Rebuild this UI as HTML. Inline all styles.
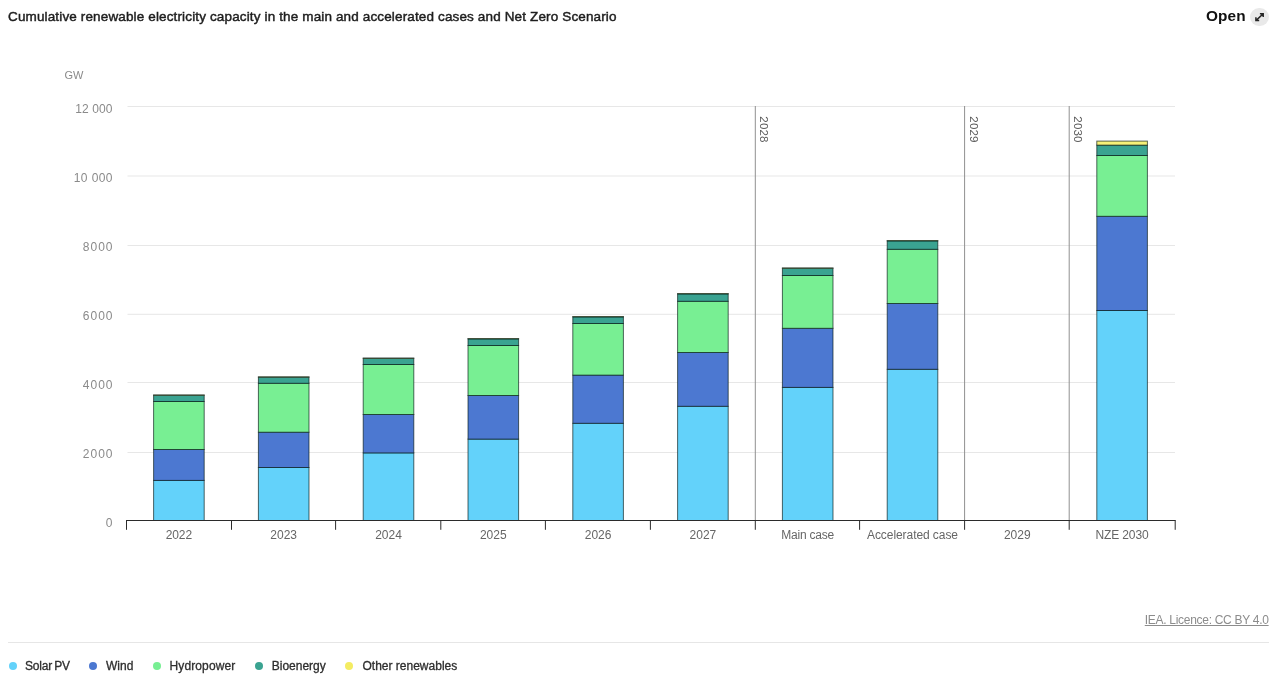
<!DOCTYPE html>
<html lang="en">
<head>
<meta charset="utf-8">
<title>Cumulative renewable electricity capacity</title>
<style>
html,body{margin:0;padding:0;background:#fff;}
body{width:1280px;height:680px;position:relative;overflow:hidden;font-family:"Liberation Sans",sans-serif;color:#222;}
.title{position:absolute;left:8px;top:8.9px;font-size:13.5px;line-height:16px;font-weight:400;color:#1e1e1e;white-space:nowrap;-webkit-text-stroke:0.45px #1e1e1e;letter-spacing:0.14px;}
.open{position:absolute;left:1206.2px;top:7px;letter-spacing:0.1px;transform:scaleX(1.06);transform-origin:0 0;font-size:14.5px;line-height:18px;font-weight:700;color:#111;white-space:nowrap;}
.openic{position:absolute;left:1250px;top:7.5px;width:18.5px;height:18.5px;border-radius:50%;background:#e9e9e9;}
.openic svg{position:absolute;left:0;top:0;}
.chart{position:absolute;left:0;top:0;}
.chart text{font-family:"Liberation Sans",sans-serif;font-size:12px;}
.chart .yl{fill:#8a8a8a;}
.chart .gw{font-size:11px;}
.chart .xl{fill:#666;}
.chart .pl{fill:#5c5c5c;font-size:11.6px;letter-spacing:0.15px;}
.lic{position:absolute;right:11.4px;top:611.9px;letter-spacing:-0.29px;font-size:12px;text-underline-offset:0.6px;text-decoration-thickness:1px;line-height:16px;color:#8c8c8c;text-decoration:underline;white-space:nowrap;}
.sep{position:absolute;left:8px;width:1260.7px;top:642.4px;height:1px;background:#e6e6e6;}
.leg{position:absolute;top:657px;height:18px;line-height:18px;font-size:12px;color:#2e2e2e;white-space:nowrap;-webkit-text-stroke:0.3px #2e2e2e;}
.dot{position:absolute;top:662px;width:8px;height:8px;border-radius:50%;}
</style>
</head>
<body>
<div class="title">Cumulative renewable electricity capacity in the main and accelerated cases and Net Zero Scenario</div>
<div class="open">Open</div>
<div class="openic"><svg width="18.5" height="18.5" viewBox="0 0 18.5 18.5"><path d="M5.9 12.6 L13.2 5.8 M9.9 5.8 H13.2 V9.1 M5.9 9.3 V12.6 H9.2" fill="none" stroke="#262626" stroke-width="1.5"/></svg></div>
<svg class="chart" width="1280" height="560" viewBox="0 0 1280 560">
<line x1="127.5" x2="1175" y1="106.5" y2="106.5" stroke="#e7e7e7" stroke-width="1"/>
<line x1="127.5" x2="1175" y1="176.0" y2="176.0" stroke="#e7e7e7" stroke-width="1"/>
<line x1="127.5" x2="1175" y1="245.5" y2="245.5" stroke="#e7e7e7" stroke-width="1"/>
<line x1="127.5" x2="1175" y1="314.3" y2="314.3" stroke="#e7e7e7" stroke-width="1"/>
<line x1="127.5" x2="1175" y1="382.5" y2="382.5" stroke="#e7e7e7" stroke-width="1"/>
<line x1="127.5" x2="1175" y1="452.5" y2="452.5" stroke="#e7e7e7" stroke-width="1"/>
<line x1="755.30" x2="755.30" y1="106" y2="520.5" stroke="#909090" stroke-width="1"/>
<line x1="964.60" x2="964.60" y1="106" y2="520.5" stroke="#909090" stroke-width="1"/>
<line x1="1069.20" x2="1069.20" y1="106" y2="520.5" stroke="#909090" stroke-width="1"/>
<rect x="153.60" y="480.40" width="50.6" height="40.10" fill="#63d2fa" stroke="rgba(0,20,15,0.64)" stroke-width="1"/>
<rect x="153.60" y="449.50" width="50.6" height="30.90" fill="#4c78d1" stroke="rgba(0,20,15,0.64)" stroke-width="1"/>
<rect x="153.60" y="401.50" width="50.6" height="48.00" fill="#78ef93" stroke="rgba(0,20,15,0.64)" stroke-width="1"/>
<rect x="153.60" y="395.30" width="50.6" height="6.20" fill="#3aa391" stroke="rgba(0,20,15,0.64)" stroke-width="1"/>
<rect x="153.60" y="394.90" width="50.6" height="0.40" fill="#f6f078" stroke="rgba(0,20,15,0.64)" stroke-width="1"/>
<rect x="258.40" y="467.50" width="50.6" height="53.00" fill="#63d2fa" stroke="rgba(0,20,15,0.64)" stroke-width="1"/>
<rect x="258.40" y="432.20" width="50.6" height="35.30" fill="#4c78d1" stroke="rgba(0,20,15,0.64)" stroke-width="1"/>
<rect x="258.40" y="383.30" width="50.6" height="48.90" fill="#78ef93" stroke="rgba(0,20,15,0.64)" stroke-width="1"/>
<rect x="258.40" y="377.20" width="50.6" height="6.10" fill="#3aa391" stroke="rgba(0,20,15,0.64)" stroke-width="1"/>
<rect x="258.40" y="376.80" width="50.6" height="0.40" fill="#f6f078" stroke="rgba(0,20,15,0.64)" stroke-width="1"/>
<rect x="363.20" y="452.90" width="50.6" height="67.60" fill="#63d2fa" stroke="rgba(0,20,15,0.64)" stroke-width="1"/>
<rect x="363.20" y="414.50" width="50.6" height="38.40" fill="#4c78d1" stroke="rgba(0,20,15,0.64)" stroke-width="1"/>
<rect x="363.20" y="364.50" width="50.6" height="50.00" fill="#78ef93" stroke="rgba(0,20,15,0.64)" stroke-width="1"/>
<rect x="363.20" y="358.40" width="50.6" height="6.10" fill="#3aa391" stroke="rgba(0,20,15,0.64)" stroke-width="1"/>
<rect x="363.20" y="358.00" width="50.6" height="0.40" fill="#f6f078" stroke="rgba(0,20,15,0.64)" stroke-width="1"/>
<rect x="468.00" y="439.10" width="50.6" height="81.40" fill="#63d2fa" stroke="rgba(0,20,15,0.64)" stroke-width="1"/>
<rect x="468.00" y="395.50" width="50.6" height="43.60" fill="#4c78d1" stroke="rgba(0,20,15,0.64)" stroke-width="1"/>
<rect x="468.00" y="345.50" width="50.6" height="50.00" fill="#78ef93" stroke="rgba(0,20,15,0.64)" stroke-width="1"/>
<rect x="468.00" y="338.90" width="50.6" height="6.60" fill="#3aa391" stroke="rgba(0,20,15,0.64)" stroke-width="1"/>
<rect x="468.00" y="338.50" width="50.6" height="0.40" fill="#f6f078" stroke="rgba(0,20,15,0.64)" stroke-width="1"/>
<rect x="572.80" y="423.30" width="50.6" height="97.20" fill="#63d2fa" stroke="rgba(0,20,15,0.64)" stroke-width="1"/>
<rect x="572.80" y="375.10" width="50.6" height="48.20" fill="#4c78d1" stroke="rgba(0,20,15,0.64)" stroke-width="1"/>
<rect x="572.80" y="323.50" width="50.6" height="51.60" fill="#78ef93" stroke="rgba(0,20,15,0.64)" stroke-width="1"/>
<rect x="572.80" y="316.90" width="50.6" height="6.60" fill="#3aa391" stroke="rgba(0,20,15,0.64)" stroke-width="1"/>
<rect x="572.80" y="316.50" width="50.6" height="0.40" fill="#f6f078" stroke="rgba(0,20,15,0.64)" stroke-width="1"/>
<rect x="677.60" y="406.30" width="50.6" height="114.20" fill="#63d2fa" stroke="rgba(0,20,15,0.64)" stroke-width="1"/>
<rect x="677.60" y="352.50" width="50.6" height="53.80" fill="#4c78d1" stroke="rgba(0,20,15,0.64)" stroke-width="1"/>
<rect x="677.60" y="301.30" width="50.6" height="51.20" fill="#78ef93" stroke="rgba(0,20,15,0.64)" stroke-width="1"/>
<rect x="677.60" y="293.90" width="50.6" height="7.40" fill="#3aa391" stroke="rgba(0,20,15,0.64)" stroke-width="1"/>
<rect x="677.60" y="293.50" width="50.6" height="0.40" fill="#f6f078" stroke="rgba(0,20,15,0.64)" stroke-width="1"/>
<rect x="782.40" y="387.40" width="50.6" height="133.10" fill="#63d2fa" stroke="rgba(0,20,15,0.64)" stroke-width="1"/>
<rect x="782.40" y="328.30" width="50.6" height="59.10" fill="#4c78d1" stroke="rgba(0,20,15,0.64)" stroke-width="1"/>
<rect x="782.40" y="275.50" width="50.6" height="52.80" fill="#78ef93" stroke="rgba(0,20,15,0.64)" stroke-width="1"/>
<rect x="782.40" y="268.30" width="50.6" height="7.20" fill="#3aa391" stroke="rgba(0,20,15,0.64)" stroke-width="1"/>
<rect x="782.40" y="267.90" width="50.6" height="0.40" fill="#f6f078" stroke="rgba(0,20,15,0.64)" stroke-width="1"/>
<rect x="887.20" y="369.30" width="50.6" height="151.20" fill="#63d2fa" stroke="rgba(0,20,15,0.64)" stroke-width="1"/>
<rect x="887.20" y="303.50" width="50.6" height="65.80" fill="#4c78d1" stroke="rgba(0,20,15,0.64)" stroke-width="1"/>
<rect x="887.20" y="249.30" width="50.6" height="54.20" fill="#78ef93" stroke="rgba(0,20,15,0.64)" stroke-width="1"/>
<rect x="887.20" y="240.90" width="50.6" height="8.40" fill="#3aa391" stroke="rgba(0,20,15,0.64)" stroke-width="1"/>
<rect x="887.20" y="240.50" width="50.6" height="0.40" fill="#f6f078" stroke="rgba(0,20,15,0.64)" stroke-width="1"/>
<rect x="1096.80" y="310.50" width="50.6" height="210.00" fill="#63d2fa" stroke="rgba(0,20,15,0.64)" stroke-width="1"/>
<rect x="1096.80" y="216.30" width="50.6" height="94.20" fill="#4c78d1" stroke="rgba(0,20,15,0.64)" stroke-width="1"/>
<rect x="1096.80" y="155.50" width="50.6" height="60.80" fill="#78ef93" stroke="rgba(0,20,15,0.64)" stroke-width="1"/>
<rect x="1096.80" y="145.10" width="50.6" height="10.40" fill="#3aa391" stroke="rgba(0,20,15,0.64)" stroke-width="1"/>
<rect x="1096.80" y="141.10" width="50.6" height="4.00" fill="#f6f078" stroke="rgba(0,20,15,0.64)" stroke-width="1"/>
<line x1="126" x2="1175.7" y1="520.5" y2="520.5" stroke="#2b2b2b" stroke-width="1"/>
<line x1="126.50" x2="126.50" y1="520.5" y2="529.8" stroke="#2b2b2b" stroke-width="1"/>
<line x1="231.50" x2="231.50" y1="520.5" y2="529.8" stroke="#2b2b2b" stroke-width="1"/>
<line x1="335.60" x2="335.60" y1="520.5" y2="529.8" stroke="#2b2b2b" stroke-width="1"/>
<line x1="440.80" x2="440.80" y1="520.5" y2="529.8" stroke="#2b2b2b" stroke-width="1"/>
<line x1="545.40" x2="545.40" y1="520.5" y2="529.8" stroke="#2b2b2b" stroke-width="1"/>
<line x1="650.40" x2="650.40" y1="520.5" y2="529.8" stroke="#2b2b2b" stroke-width="1"/>
<line x1="755.30" x2="755.30" y1="520.5" y2="529.8" stroke="#2b2b2b" stroke-width="1"/>
<line x1="859.60" x2="859.60" y1="520.5" y2="529.8" stroke="#2b2b2b" stroke-width="1"/>
<line x1="964.60" x2="964.60" y1="520.5" y2="529.8" stroke="#2b2b2b" stroke-width="1"/>
<line x1="1069.20" x2="1069.20" y1="520.5" y2="529.8" stroke="#2b2b2b" stroke-width="1"/>
<line x1="1175.20" x2="1175.20" y1="520.5" y2="529.8" stroke="#2b2b2b" stroke-width="1"/>
<text class="yl" x="112.60" y="112.9" text-anchor="end" style="letter-spacing:0.1px">12 000</text>
<text class="yl" x="112.90" y="181.9" text-anchor="end" style="letter-spacing:0.4px">10 000</text>
<text class="yl" x="113.50" y="250.9" text-anchor="end" style="letter-spacing:1.0px">8000</text>
<text class="yl" x="113.50" y="319.9" text-anchor="end" style="letter-spacing:1.0px">6000</text>
<text class="yl" x="113.50" y="388.9" text-anchor="end" style="letter-spacing:1.0px">4000</text>
<text class="yl" x="113.50" y="457.9" text-anchor="end" style="letter-spacing:1.0px">2000</text>
<text class="yl" x="112.50" y="526.9" text-anchor="end" style="letter-spacing:0px">0</text>
<text class="yl gw" x="64.5" y="79">GW</text>
<text class="xl" x="178.88" y="539.3" text-anchor="middle" style="letter-spacing:-0.05px">2022</text>
<text class="xl" x="283.70" y="539.3" text-anchor="middle" style="letter-spacing:0.0px">2023</text>
<text class="xl" x="388.50" y="539.3" text-anchor="middle" style="letter-spacing:0.0px">2024</text>
<text class="xl" x="493.30" y="539.3" text-anchor="middle" style="letter-spacing:0.0px">2025</text>
<text class="xl" x="598.10" y="539.3" text-anchor="middle" style="letter-spacing:0.0px">2026</text>
<text class="xl" x="702.90" y="539.3" text-anchor="middle" style="letter-spacing:0.0px">2027</text>
<text class="xl" x="807.59" y="539.3" text-anchor="middle" style="letter-spacing:-0.22px">Main case</text>
<text class="xl" x="912.47" y="539.3" text-anchor="middle" style="letter-spacing:-0.07px">Accelerated case</text>
<text class="xl" x="1017.30" y="539.3" text-anchor="middle" style="letter-spacing:0.0px">2029</text>
<text class="xl" x="1122.03" y="539.3" text-anchor="middle" style="letter-spacing:-0.14px">NZE 2030</text>
<text class="xl pl" transform="translate(759.9,116.3) rotate(90)">2028</text>
<text class="xl pl" transform="translate(969.5,116.3) rotate(90)">2029</text>
<text class="xl pl" transform="translate(1074.3,116.3) rotate(90)">2030</text>
</svg>
<a class="lic">IEA. Licence: CC BY 4.0</a>
<div class="sep"></div>
<span class="dot" style="left:9px;background:#63d2fa"></span><span class="leg" style="left:25px;letter-spacing:-0.2px;word-spacing:-1px">Solar PV</span>
<span class="dot" style="left:89px;background:#4c78d1"></span><span class="leg" style="left:106px">Wind</span>
<span class="dot" style="left:152.75px;background:#78ef93"></span><span class="leg" style="left:169.5px;letter-spacing:0.12px">Hydropower</span>
<span class="dot" style="left:255px;background:#3aa391"></span><span class="leg" style="left:271.75px">Bioenergy</span>
<span class="dot" style="left:345px;background:#f4ec62"></span><span class="leg" style="left:362.5px">Other renewables</span>
</body>
</html>
